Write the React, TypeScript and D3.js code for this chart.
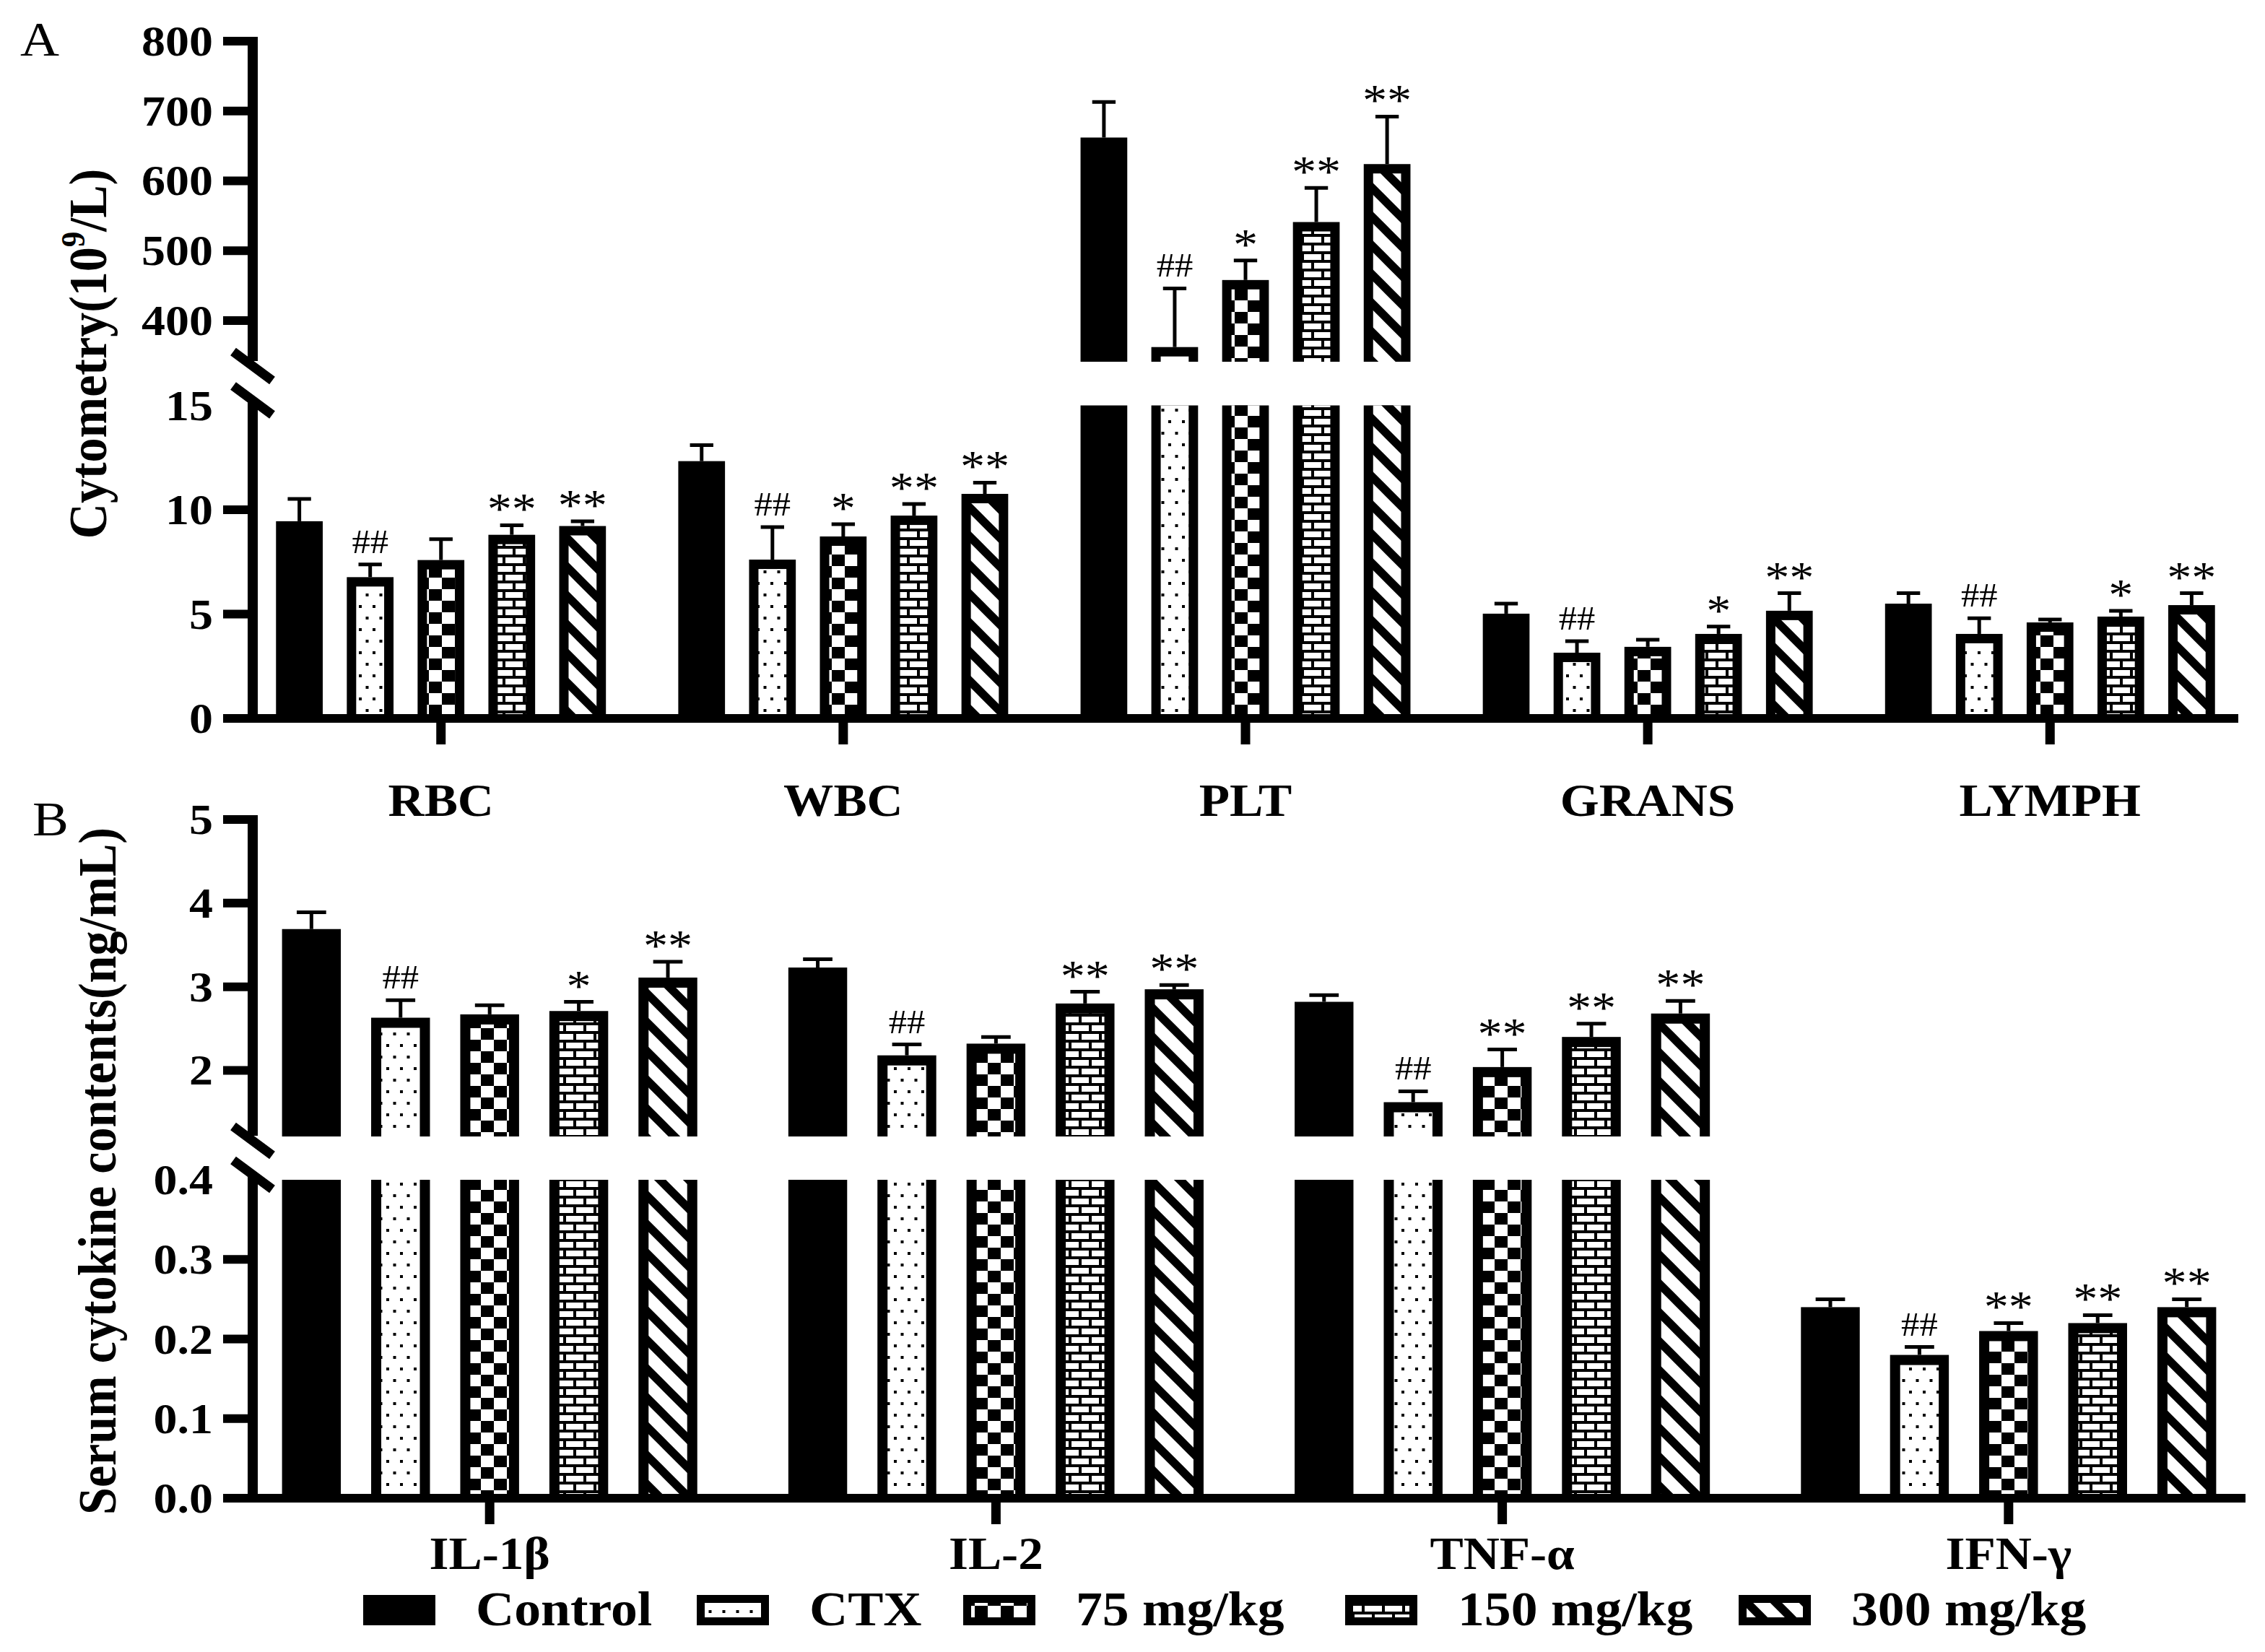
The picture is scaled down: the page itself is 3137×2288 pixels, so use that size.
import * as d3 from 'd3';

// treatment groups, drawn left to right inside every category
const groups = ['Control', 'CTX', '75 mg/kg', '150 mg/kg', '300 mg/kg'];

// panel A: blood cell counts (10^9/L)
const bloodCats = ['RBC', 'WBC', 'PLT', 'GRANS', 'LYMPH'];
const bloodMean = [
  [9.45, 6.77, 7.59, 8.8, 9.22],
  [12.33, 7.61, 8.72, 9.72, 10.76],
  [662, 362, 458, 541, 624],
  [5.02, 3.15, 3.43, 4.05, 5.16],
  [5.5, 4.05, 4.6, 4.88, 5.43],
];
const bloodErr = [
  [1.07, 0.61, 1.0, 0.46, 0.23],
  [0.77, 1.56, 0.59, 0.56, 0.54],
  [51, 84, 28, 49, 68],
  [0.48, 0.55, 0.34, 0.35, 0.84],
  [0.5, 0.75, 0.14, 0.28, 0.57],
];
const bloodSig = [
  ['', '##', '', '**', '**'],
  ['', '##', '*', '**', '**'],
  ['', '##', '*', '**', '**'],
  ['', '##', '', '*', '**'],
  ['', '##', '', '*', '**'],
];

// panel B: serum cytokines (ng/mL)
const cytoCats = ['IL-1β', 'IL-2', 'TNF-α', 'IFN-γ'];
const cytoMean = [
  [3.69, 2.63, 2.67, 2.71, 3.11],
  [3.23, 2.18, 2.32, 2.8, 2.97],
  [2.82, 1.62, 2.04, 2.4, 2.68],
  [0.24, 0.18, 0.21, 0.22, 0.24],
];
const cytoErr = [
  [0.2, 0.21, 0.11, 0.11, 0.19],
  [0.1, 0.13, 0.08, 0.14, 0.05],
  [0.08, 0.13, 0.21, 0.16, 0.15],
  [0.01, 0.01, 0.01, 0.01, 0.01],
];
const cytoSig = [
  ['', '##', '', '*', '**'],
  ['', '##', '', '**', '**'],
  ['', '##', '**', '**', '**'],
  ['', '##', '**', '**', '**'],
];

const bloodLoTicks = [0, 5, 10, 15];
const bloodHiTicks = [400, 500, 600, 700, 800];
const cytoLoTicks = [0, 0.1, 0.2, 0.3, 0.4];
const cytoHiTicks = [2, 3, 4, 5];

const FILLS = ['#000', 'url(#dots)', 'url(#checker)', 'url(#brick)', 'url(#stripes)'];
const FONT = "'Liberation Serif', 'Times New Roman', Times, serif";
const SX = 1.1; // the lettering is set slightly wide
const AXIS_X = 350;
const LINE = 13;

function Txt({ x, y, size, weight = 'bold', anchor = 'middle', rotate = false, children }: any) {
  return (
    <text
      transform={`translate(${x},${y}) scale(${SX},1)${rotate ? ' rotate(-90)' : ''}`}
      fontFamily={FONT}
      fontSize={size}
      fontWeight={weight}
      textAnchor={anchor}
      fill="#000"
    >
      {children}
    </text>
  );
}

function BarShape({ x, w, top, bottom, fill, border, topCut }: any) {
  if (bottom - top <= 0) return null;
  if (fill === '#000') return <rect x={x} y={top} width={w} height={bottom - top} fill="#000" />;
  const innerTop = topCut ? top : top + border;
  return (
    <g>
      <rect x={x} y={top} width={w} height={bottom - top} fill="#000" />
      {bottom - innerTop > 0 && (
        <rect x={x + border} y={innerTop} width={w - 2 * border} height={bottom - innerTop} fill={fill} />
      )}
    </g>
  );
}

interface PanelProps {
  cats: string[];
  means: number[][];
  errs: number[][];
  sig: string[][];
  loDomain: [number, number];
  loRange: [number, number];
  hiDomain: [number, number];
  hiRange: [number, number];
  xRange: [number, number];
  loTicks: number[];
  hiTicks: number[];
  loFmt: (v: number) => string;
  border: number;
  catY: number;
}

function BrokenBarPanel(p: PanelProps) {
  const x0 = d3.scalePoint<string>().domain(p.cats).range(p.xRange).padding(0.468);
  const step = x0.step();
  const x1 = d3.scaleBand<string>().domain(groups).range([-step * 0.44, step * 0.44])
    .paddingInner(0.34).paddingOuter(0.17);
  const bw = x1.bandwidth();
  const lo = d3.scaleLinear().domain(p.loDomain).range(p.loRange);
  const hi = d3.scaleLinear().domain(p.hiDomain).range(p.hiRange);
  const [loMin, loMax] = p.loDomain;
  const [hiMin, hiMax] = p.hiDomain;
  const base = lo(loMin);
  const tickL = AXIS_X - 41;

  const breakMark = (cy: number, k: string) => (
    <line key={k} x1={AXIS_X - 27} y1={cy - 20} x2={AXIS_X + 27} y2={cy + 20} stroke="#000" strokeWidth={LINE} />
  );

  return (
    <g>
      {/* bars with error bars and significance marks */}
      {p.cats.map((c, ci) => (
        <g key={c}>
          {groups.map((g, gi) => {
            const v = p.means[ci][gi];
            const e = p.errs[ci][gi];
            const bx = (x0(c) as number) + (x1(g) as number);
            const cx = bx + bw / 2;
            const s = v > hiMin ? hi : lo;
            const yv = s(v);
            const ye = s(v + e);
            const mark = p.sig[ci][gi];
            const isHash = mark[0] === '#';
            return (
              <g key={g}>
                <BarShape x={bx} w={bw} top={lo(Math.min(v, loMax))} bottom={base} fill={FILLS[gi]}
                  border={p.border} topCut={v > loMax} />
                {v > hiMin && (
                  <BarShape x={bx} w={bw} top={hi(v)} bottom={hi(hiMin)} fill={FILLS[gi]}
                    border={p.border} topCut={false} />
                )}
                <line x1={cx} x2={cx} y1={yv} y2={ye} stroke="#000" strokeWidth={5} />
                <line x1={cx - bw / 4} x2={cx + bw / 4} y1={ye} y2={ye} stroke="#000" strokeWidth={5} />
                {mark && (
                  <Txt x={cx} y={ye - (isHash ? 16 : 2)} size={isHash ? 46 : 62} weight="normal">
                    {mark}
                  </Txt>
                )}
              </g>
            );
          })}
        </g>
      ))}

      {/* y axis, split in two segments */}
      <line x1={AXIS_X} x2={AXIS_X} y1={hi(hiMax) - 6} y2={hi(hiMin) - 1} stroke="#000" strokeWidth={LINE + 1} />
      <line x1={AXIS_X} x2={AXIS_X} y1={lo(loMax) - 5} y2={base + 6} stroke="#000" strokeWidth={LINE + 1} />
      {breakMark(hi(hiMin) + 6, 'b1')}
      {breakMark(lo(loMax) - 7, 'b2')}

      {p.hiTicks.map((t) => (
        <g key={'h' + t}>
          <line x1={tickL} x2={AXIS_X + 7} y1={hi(t)} y2={hi(t)} stroke="#000" strokeWidth={12} />
          <Txt x={295} y={hi(t) + 20} size={60} anchor="end">{d3.format('d')(t)}</Txt>
        </g>
      ))}
      {p.loTicks.map((t) => (
        <g key={'l' + t}>
          {t !== loMax && (
            <line x1={tickL} x2={AXIS_X + 7} y1={lo(t)} y2={lo(t)} stroke="#000" strokeWidth={12} />
          )}
          <Txt x={295} y={lo(t) + 20} size={60} anchor="end">{p.loFmt(t)}</Txt>
        </g>
      ))}

      {/* x axis with category ticks */}
      <line x1={tickL} x2={p.xRange[1]} y1={base} y2={base} stroke="#000" strokeWidth={12} />
      {p.cats.map((c) => (
        <g key={'x' + c}>
          <line x1={x0(c)} x2={x0(c)} y1={base} y2={base + 36} stroke="#000" strokeWidth={LINE} />
          <Txt x={x0(c)} y={p.catY} size={63}>{c}</Txt>
        </g>
      ))}
    </g>
  );
}

const LEGEND_X = [503, 965, 1334, 1863, 2408];

export default function App() {
  return (
    <svg
      width={3137}
      height={2288}
      viewBox="0 0 3137 2288"
      style={{ position: 'absolute', left: 0, top: 0, display: 'block', background: '#fff' }}
    >
      <defs>
        <pattern id="dots" patternUnits="userSpaceOnUse" width={19} height={32}>
          <rect width={19} height={32} fill="#fff" />
          <rect x={3} y={6} width={4} height={4} fill="#000" />
          <rect x={12.5} y={22} width={4} height={4} fill="#000" />
        </pattern>
        <pattern id="checker" patternUnits="userSpaceOnUse" width={36} height={32}>
          <rect width={36} height={32} fill="#fff" />
          <rect x={0} y={0} width={18} height={16} fill="#000" />
          <rect x={18} y={16} width={18} height={16} fill="#000" />
        </pattern>
        <pattern id="brick" patternUnits="userSpaceOnUse" width={28} height={24}>
          <rect width={28} height={24} fill="#000" />
          <rect x={0} y={4} width={24} height={8} fill="#fff" />
          <rect x={0} y={16} width={10} height={8} fill="#fff" />
          <rect x={14} y={16} width={14} height={8} fill="#fff" />
        </pattern>
        <pattern id="stripes" patternUnits="userSpaceOnUse" width={40} height={40}>
          <rect width={40} height={40} fill="#fff" />
          <path d="M-10,-10 L50,50 M-10,30 L10,50 M30,-10 L50,10" stroke="#000" strokeWidth={11.5} />
        </pattern>
      </defs>

      <rect width={3137} height={2288} fill="#fff" />

      {/* A: blood cell counts */}
      <Txt x={28} y={77} size={68} weight="normal" anchor="start">A</Txt>
      <Txt x={147} y={490} size={68} rotate>
        <tspan>Cytometry(10</tspan>
        <tspan fontSize={43} dy={-27}>9</tspan>
        <tspan dy={27}>/L)</tspan>
      </Txt>
      <BrokenBarPanel
        cats={bloodCats}
        means={bloodMean}
        errs={bloodErr}
        sig={bloodSig}
        loDomain={[0, 15]}
        loRange={[995, 561.5]}
        hiDomain={[341, 800]}
        hiRange={[501, 57]}
        xRange={[AXIS_X, 3100]}
        loTicks={bloodLoTicks}
        hiTicks={bloodHiTicks}
        loFmt={d3.format('d')}
        border={13}
        catY={1130}
      />

      {/* B: serum cytokines */}
      <Txt x={45} y={1157} size={68} weight="normal" anchor="start">B</Txt>
      <Txt x={160} y={1622} size={68} rotate>Serum cytokine contents(ng/mL)</Txt>
      <BrokenBarPanel
        cats={cytoCats}
        means={cytoMean}
        errs={cytoErr}
        sig={cytoSig}
        loDomain={[0, 0.4]}
        loRange={[2075, 1634]}
        hiDomain={[1.21, 5]}
        hiRange={[1574, 1135]}
        xRange={[AXIS_X, 3110]}
        loTicks={cytoLoTicks}
        hiTicks={cytoHiTicks}
        loFmt={d3.format('.1f')}
        border={14}
        catY={2173}
      />

      {/* legend */}
      {groups.map((g, i) => (
        <g key={g}>
          <BarShape x={LEGEND_X[i]} w={100} top={2209} bottom={2251} fill={FILLS[i]} border={11} topCut={false} />
          {FILLS[i] !== '#000' && <rect x={LEGEND_X[i]} y={2240} width={100} height={11} fill="#000" />}
          <Txt x={LEGEND_X[i] + 156} y={2251} size={67} anchor="start">{g}</Txt>
        </g>
      ))}
    </svg>
  );
}
